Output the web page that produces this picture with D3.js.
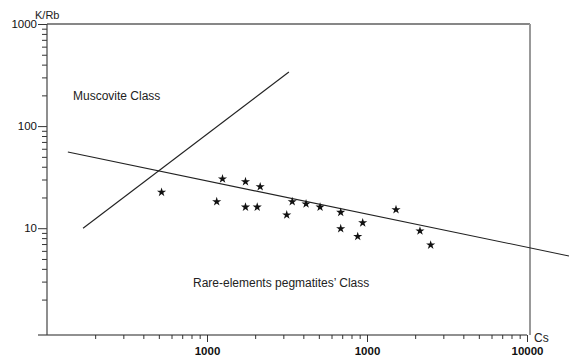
<!DOCTYPE html>
<html>
<head>
<meta charset="utf-8">
<script src="https://cdn.jsdelivr.net/npm/d3@7/dist/d3.min.js"></script>
<style>
  body { margin: 0; background: #fff; }
  svg { display: block; font-family: Arial, "Liberation Sans", sans-serif; }
</style>
</head>
<body>
<svg id="chart" width="569" height="361"></svg>
<script>
'use strict';

// samples (Cs, K/Rb)
var csValues = [52, 125, 115, 174, 174, 215, 206, 315, 341, 416, 509, 685, 685, 940, 875, 1518, 2143, 2500];
var krbValues = [22.5, 30.4, 18.2, 28.6, 16.1, 25.5, 16.1, 13.5, 18.2, 17.3, 16.1, 14.3, 9.9, 11.3, 8.3, 15.2, 9.4, 6.85];

// boundary lines, end points in data units
var muscoviteLine = [[16.8, 10], [325, 339]];
var classLine = [[13.5, 55.7], [18300, 5.35]];

var xMajor = [100, 1000, 10000];
var xMajorLabels = ['1000', '1000', '10000'];
var yMajor = [10, 100, 1000];
var yMajorLabels = ['10', '100', '1000'];

(function () {
  var svg = d3.select('#chart'),
      plotLeft = 47,
      plotRight = 527,
      plotTop = 24,
      plotBottom = 335,
      frameRight = 530;

  var x = d3.scaleLog().domain([10, 10000]).range([plotLeft, plotRight]),
      y = d3.scaleLog().domain([0.9, 1000]).range([plotBottom, plotTop]);

  function minors(lo, hi) {
    var out = [];
    for (var d = lo; d < hi; d *= 10) {
      for (var k = 2; k <= 9; k++) { out.push(d * k); }
    }
    return out;
  }

  // frame: top black, right gray
  svg.append('line').attr('x1', plotLeft).attr('x2', frameRight).attr('y1', plotTop).attr('y2', plotTop)
    .attr('stroke', '#111').attr('stroke-width', 1.2);
  svg.append('line').attr('x1', frameRight).attr('x2', frameRight).attr('y1', plotTop).attr('y2', plotBottom)
    .attr('stroke', '#999').attr('stroke-width', 2);

  // x axis
  var gx = svg.append('g').attr('transform', 'translate(0,' + plotBottom + ')');
  gx.append('g').call(d3.axisBottom(x).tickValues(minors(10, 10000)).tickSize(4).tickFormat(''));
  gx.append('g').call(d3.axisBottom(x).tickValues(xMajor).tickSize(7).tickPadding(5)
    .tickFormat(function (d, i) { return xMajorLabels[i]; }));
  gx.selectAll('.domain').remove();
  gx.selectAll('line').attr('stroke', '#333');
  gx.selectAll('text').attr('fill', '#111').style('font-size', '11.5px').style('font-weight', 'bold')
    .style('font-family', 'Arial, "Liberation Sans", sans-serif');
  gx.append('line').attr('x1', 38).attr('x2', plotRight).attr('stroke', '#222').attr('stroke-width', 1.2);

  // y axis
  var gy = svg.append('g').attr('transform', 'translate(' + plotLeft + ',0)');
  gy.append('g').call(d3.axisLeft(y).tickValues(minors(1, 1000)).tickSize(5).tickFormat(''));
  gy.append('g').call(d3.axisLeft(y).tickValues(yMajor).tickSize(9).tickPadding(1)
    .tickFormat(function (d, i) { return yMajorLabels[i]; }));
  gy.selectAll('.domain').remove();
  gy.selectAll('line').attr('stroke', '#333');
  gy.selectAll('text').attr('fill', '#111').style('font-size', '11.5px')
    .style('font-family', 'Arial, "Liberation Sans", sans-serif');
  gy.append('line').attr('y1', plotTop).attr('y2', plotBottom).attr('stroke', '#444').attr('stroke-width', 1.2);

  // axis titles
  svg.append('text').attr('x', 35).attr('y', 19).attr('font-size', 11).attr('fill', '#222').text('K/Rb');
  svg.append('text').attr('x', 534).attr('y', 342).attr('font-size', 12).attr('fill', '#222').text('Cs');

  // boundary lines
  var line = d3.line().x(function (d) { return x(d[0]); }).y(function (d) { return y(d[1]); });
  [muscoviteLine, classLine].forEach(function (seg) {
    svg.append('path').attr('d', line(seg)).attr('fill', 'none').attr('stroke', '#222').attr('stroke-width', 1.1);
  });

  // class labels
  svg.append('text').attr('x', 73).attr('y', 100).attr('font-size', 12).attr('fill', '#222').text('Muscovite Class');
  svg.append('text').attr('x', 193).attr('y', 287).attr('font-size', 12).attr('fill', '#222').text('Rare-elements pegmatites\u2019 Class');

  // samples
  var star = d3.symbol().type(d3.symbolStar).size(26);
  svg.append('g').selectAll('path').data(csValues).enter().append('path')
    .attr('d', star)
    .attr('transform', function (d, i) { return 'translate(' + x(d) + ',' + y(krbValues[i]) + ')'; })
    .attr('fill', '#111');
})();
</script>
</body>
</html>
